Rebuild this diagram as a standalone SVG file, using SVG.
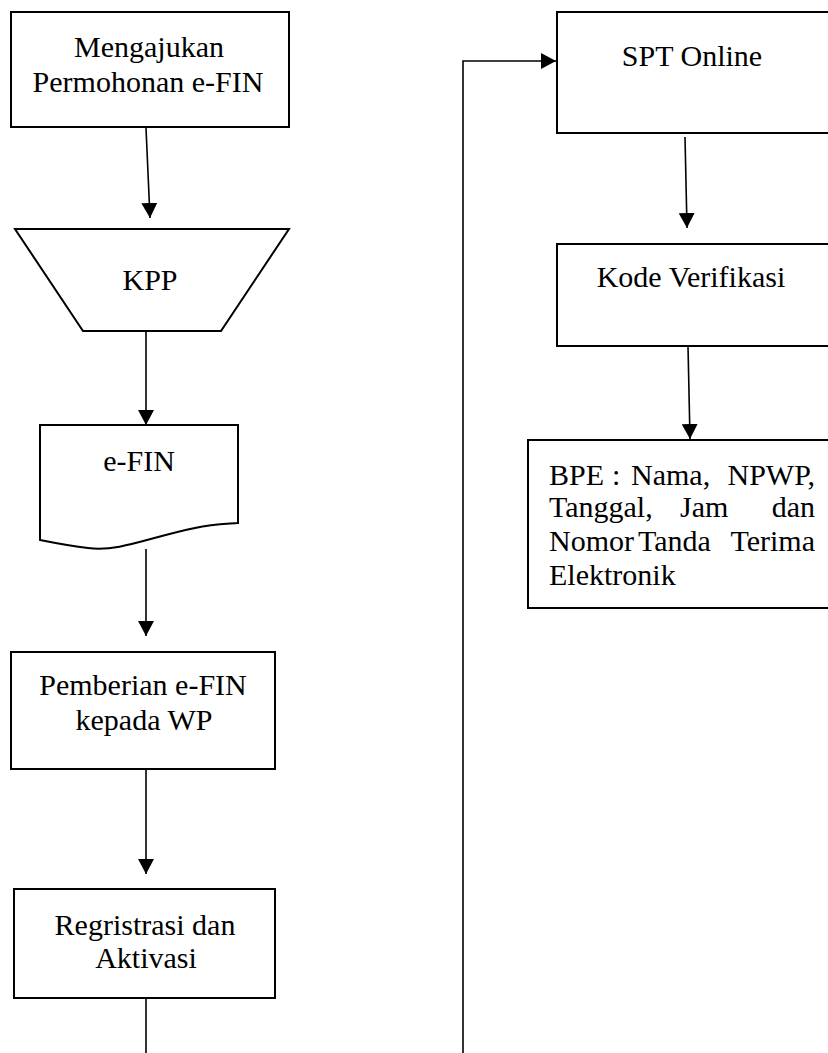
<svg xmlns="http://www.w3.org/2000/svg" width="828" height="1053" viewBox="0 0 828 1053">
<style>
.s{fill:#fff;stroke:#000;stroke-width:2}
.t{font-family:"Liberation Serif","Times New Roman",serif;font-size:30px;fill:#000}
.m{text-anchor:middle}
.c{fill:none;stroke:#000;stroke-width:1.6}
</style>
<defs>
<marker id="ah" markerUnits="userSpaceOnUse" markerWidth="16" markerHeight="16" refX="15" refY="8" orient="auto" viewBox="0 0 16 16">
<path d="M0,0 L15,8 L0,16 z" fill="#000"/>
</marker>
</defs>
<rect width="828" height="1053" fill="#fff"/>
<g id="connectors">
<line class="c" x1="146" y1="128" x2="150" y2="218" marker-end="url(#ah)"/>
<line class="c" x1="146" y1="331" x2="146" y2="425" marker-end="url(#ah)"/>
<line class="c" x1="146" y1="549" x2="146" y2="636" marker-end="url(#ah)"/>
<line class="c" x1="146" y1="770" x2="146" y2="874" marker-end="url(#ah)"/>
<line class="c" x1="146" y1="998" x2="146" y2="1053"/>
<path class="c" d="M463,1053 V61 H556" marker-end="url(#ah)"/>
<line class="c" x1="685" y1="137" x2="687" y2="228" marker-end="url(#ah)"/>
<line class="c" x1="688" y1="346" x2="690" y2="439" marker-end="url(#ah)"/>
</g>
<g id="n1">
<rect class="s" x="11" y="12" width="278" height="115"/>
<text class="t m" x="149" y="57">Mengajukan</text>
<text class="t m" x="148" y="92">Permohonan e-FIN</text>
</g>
<g id="n2">
<polygon class="s" points="15,229 289,229 221,331 83,331"/>
<text class="t m" x="150" y="290">KPP</text>
</g>
<g id="n3">
<path class="s" d="M40,425 H238 V523 C225,524 213,524 195,528 C150,537 120,552 88,548 C70,546 55,543 40,540 Z"/>
<text class="t m" x="139" y="471">e-FIN</text>
</g>
<g id="n4">
<rect class="s" x="11" y="652" width="264" height="117"/>
<text class="t m" x="143" y="695">Pemberian e-FIN</text>
<text class="t m" x="144" y="730">kepada WP</text>
</g>
<g id="n5">
<rect class="s" x="14" y="889" width="261" height="109"/>
<text class="t m" x="145" y="935">Regristrasi dan</text>
<text class="t m" x="146" y="968">Aktivasi</text>
</g>
<g id="n6">
<rect class="s" x="557" y="12" width="280" height="121"/>
<text class="t m" x="692" y="66">SPT Online</text>
</g>
<g id="n7">
<rect class="s" x="557" y="244" width="280" height="102"/>
<text class="t m" x="691" y="287">Kode Verifikasi</text>
</g>
<g id="n8">
<rect class="s" x="528" y="440" width="310" height="168"/>
<text class="t" y="485"><tspan x="549">BPE</tspan><tspan x="612">:</tspan><tspan x="631">Nama,</tspan><tspan x="815" text-anchor="end">NPWP,</tspan></text>
<text class="t" y="517"><tspan x="549">Tanggal,</tspan><tspan x="680">Jam</tspan><tspan x="815" text-anchor="end">dan</tspan></text>
<text class="t" y="551"><tspan x="549">Nomor</tspan><tspan x="638">Tanda</tspan><tspan x="815" text-anchor="end">Terima</tspan></text>
<text class="t" y="585"><tspan x="549">Elektronik</tspan></text>
</g>
</svg>
